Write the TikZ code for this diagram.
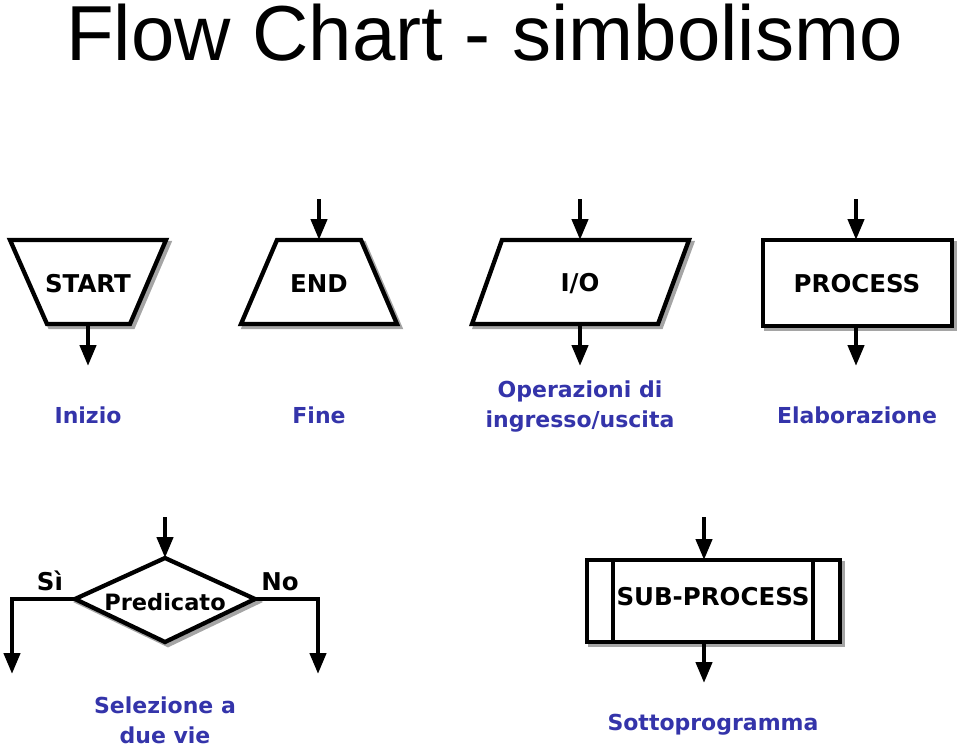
\documentclass[tikz,border=0pt]{standalone}
\usepackage{fontspec}
\setmainfont{DejaVu Sans}
\newfontfamily\titlefont{Liberation Sans}
\newfontfamily\symfont{DejaVu Sans Bold}
\usetikzlibrary{arrows.meta}
\definecolor{lbl}{RGB}{52,52,170}
\definecolor{shd}{RGB}{165,165,165}
\tikzset{
  symb/.style={draw=black, line width=4.3pt, fill=white, line join=miter},
  shadowp/.style={draw=shd, line width=4.3pt, line join=miter},
  conn/.style={line width=4.3pt, -{Triangle[length=21pt,width=16pt]}},
  plainline/.style={line width=4.3pt, line join=miter},
  symtext/.style={font=\symfont\fontsize{24.5}{30}\selectfont, inner sep=0, anchor=base},
  lbltext/.style={font=\symfont\fontsize{22}{30}\selectfont, text=lbl, inner sep=0, align=center, anchor=base},
}
\begin{document}
\begin{tikzpicture}[x=1pt,y=-1pt]
\useasboundingbox (0,0) rectangle (960,752);
\node[font=\titlefont\fontsize{78}{90}\selectfont, inner sep=0, anchor=base west] (title) at (66,60) {Flow Chart - simbolismo};

% START
\draw[shadowp] (13,243) -- (169,243) -- (133,327) -- (50,327) -- cycle;
\draw[symb] (10,240) -- (166,240) -- (130,324) -- (47,324) -- cycle;
\coordinate (startB) at (88,324);
\coordinate (startO) at (88,366);
\node[symtext] (start) at (88,292) {START};
\draw[conn] (startB) -- (startO);
\node[lbltext] (inizio) at (88,423) {Inizio};

% END
\draw[shadowp] (280,243) -- (364,243) -- (400,327) -- (244,327) -- cycle;
\draw[symb] (277,240) -- (361,240) -- (397,324) -- (241,324) -- cycle;
\coordinate (endT) at (319,240);
\coordinate (endI) at (319,199);
\node[symtext] (end) at (319,292) {END};
\draw[conn] (endI) -- (endT);
\node[lbltext] (fine) at (319,423) {Fine};

% I/O
\draw[shadowp] (505,243) -- (692,243) -- (661,327) -- (475,327) -- cycle;
\draw[symb] (502,240) -- (689,240) -- (658,324) -- (472,324) -- cycle;
\coordinate (ioT) at (580,240);
\coordinate (ioI) at (580,199);
\coordinate (ioB) at (580,324);
\coordinate (ioO) at (580,366);
\node[symtext] (io) at (580,291) {I/O};
\draw[conn] (ioI) -- (ioT);
\draw[conn] (ioB) -- (ioO);
\node[lbltext] (iolbl) at (580,427) {Operazioni di\\ingresso/uscita};

% PROCESS
\draw[shadowp] (766,243) rectangle (955,329);
\draw[symb] (763,240) rectangle (952,326);
\coordinate (prT) at (856,240);
\coordinate (prI) at (856,199);
\coordinate (prB) at (856,326);
\coordinate (prO) at (856,366);
\node[symtext] (process) at (857,292) {PROCESS};
\draw[conn] (prI) -- (prT);
\draw[conn] (prB) -- (prO);
\node[lbltext] (elab) at (857,423) {Elaborazione};

% Decision
\draw[shadowp] (168,561) -- (258,602) -- (168,645) -- (78,602) -- cycle;
\draw[symb] (165,558) -- (255,599) -- (165,642) -- (75,599) -- cycle;
\coordinate (dT) at (165,558);
\coordinate (dI) at (165,517);
\coordinate (dL) at (75,599);
\coordinate (dR) at (255,599);
\coordinate (yesC) at (12,599);
\coordinate (yesO) at (12,674);
\coordinate (noC) at (318,599);
\coordinate (noO) at (318,674);
\node[symtext, font=\symfont\fontsize{22.5}{30}\selectfont] (pred) at (165,610) {Predicato};
\draw[conn] (dI) -- (dT);
\draw[conn] (dL) -- (yesC) -- (yesO);
\draw[conn] (dR) -- (noC) -- (noO);
\node[symtext] (si) at (50,590) {Sì};
\node[symtext] (no) at (280,590) {No};
\node[lbltext] (sel) at (165,743) {Selezione a\\due vie};

% SUB-PROCESS
\draw[shadowp] (590,563) rectangle (843,645);
\draw[symb] (587,560) rectangle (840,642);
\draw[plainline] (613,560) -- (613,642);
\draw[plainline] (813,560) -- (813,642);
\coordinate (spT) at (704,560);
\coordinate (spI) at (704,517);
\coordinate (spB) at (704,642);
\coordinate (spO) at (704,683);
\node[symtext] (sub) at (713,605) {SUB-PROCESS};
\draw[conn] (spI) -- (spT);
\draw[conn] (spB) -- (spO);
\node[lbltext] (sotto) at (713,730) {Sottoprogramma};
\end{tikzpicture}
\end{document}
